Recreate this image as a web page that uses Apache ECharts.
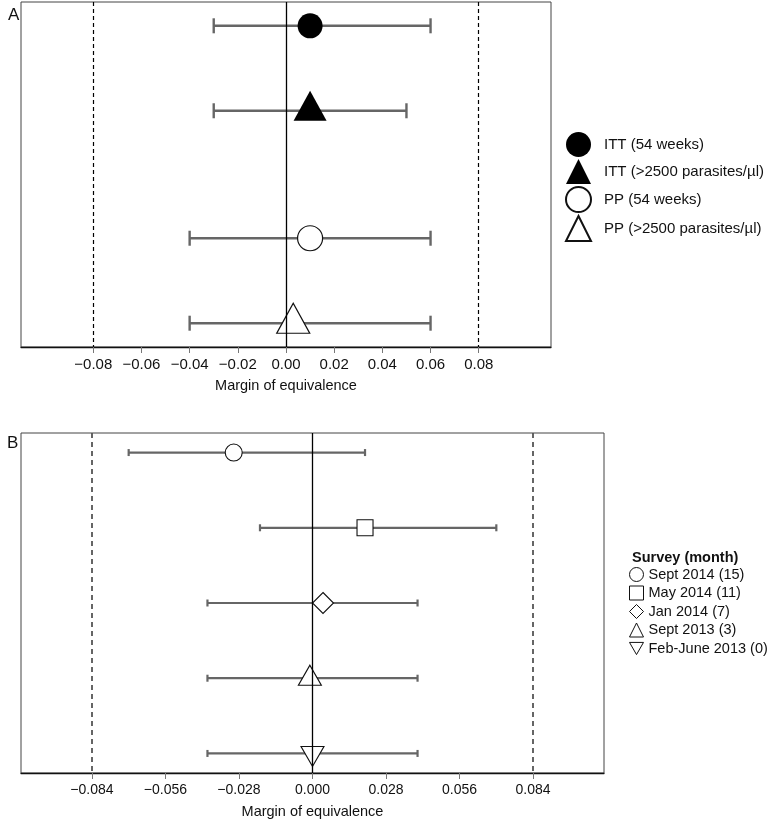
<!DOCTYPE html>
<html>
<head>
<meta charset="utf-8">
<script src="https://cdn.jsdelivr.net/npm/echarts@6/dist/echarts.min.js"></script>
<style>html,body{margin:0;padding:0;background:#fff;}#c{width:770px;height:822px;}</style>
</head>
<body>
<div id="c"></div>
<script>
// ---- Panel A data ----
var labelsA = ['ITT (54 weeks)', 'ITT (>2500 parasites/µl)', 'PP (54 weeks)', 'PP (>2500 parasites/µl)'];
var rowA = [1, 2, 3.5, 4.5];
var pointA = [0.01, 0.01, 0.01, 0.003];
var lowA = [-0.03, -0.03, -0.04, -0.04];
var highA = [0.06, 0.05, 0.06, 0.06];
var ticksA = [-0.08, -0.06, -0.04, -0.02, 0, 0.02, 0.04, 0.06, 0.08];
var marginA = [-0.08, 0.08];

// ---- Panel B data ----
var labelsB = ['Sept 2014 (15)', 'May 2014 (11)', 'Jan 2014 (7)', 'Sept 2013 (3)', 'Feb-June 2013 (0)'];
var rowB = [1, 2, 3, 4, 5];
var pointB = [-0.03, 0.02, 0.004, -0.001, 0];
var lowB = [-0.07, -0.02, -0.04, -0.04, -0.04];
var highB = [0.02, 0.07, 0.04, 0.04, 0.04];
var ticksB = [-0.084, -0.056, -0.028, 0, 0.028, 0.056, 0.084];
var marginB = [-0.084, 0.084];

var FONT = '"Liberation Sans", Arial, Helvetica, sans-serif';

function fmt(d) {
  return function (v) { return v.toFixed(d).replace('-', '\u2212'); };
}

function barRenderer(capHalf, lw) {
  return function (params, api) {
    var y = api.value(2);
    var p1 = api.coord([api.value(0), y]);
    var p2 = api.coord([api.value(1), y]);
    var st = { stroke: '#666', lineWidth: lw };
    return {
      type: 'group',
      children: [
        { type: 'line', shape: { x1: p1[0], y1: p1[1], x2: p2[0], y2: p2[1] }, style: st },
        { type: 'line', shape: { x1: p1[0], y1: p1[1] - capHalf, x2: p1[0], y2: p1[1] + capHalf }, style: st },
        { type: 'line', shape: { x1: p2[0], y1: p2[1] - capHalf, x2: p2[0], y2: p2[1] + capHalf }, style: st }
      ]
    };
  };
}

var DOWN_TRI = 'path://M0,0 L2,0 L1,1.74 Z';

var symA = ['circle', 'triangle', 'circle', 'triangle'];
var fillA = ['#000', '#000', '#fff', '#fff'];
var sizeA = [25, [33, 30], 25, [33, 30]];
var offA = [[0, 0], [0, -5], [0, 0], [0, -5]];

var symB = ['circle', 'rect', 'diamond', 'triangle', DOWN_TRI];
var sizeB = [17, 16, [21, 21], [23, 20], [23, 20]];
var offB = [[0, 0], [0, 0], [0, 0], [0, -3], [0, 3]];

var series = [];

series.push({
  type: 'custom', xAxisIndex: 0, yAxisIndex: 0, z: 2, silent: true,
  renderItem: barRenderer(7.5, 2.4),
  encode: { x: [0, 1], y: 2 },
  data: rowA.map(function (r, i) { return [lowA[i], highA[i], r]; })
});
series.push({
  type: 'custom', xAxisIndex: 1, yAxisIndex: 1, z: 2, silent: true,
  renderItem: barRenderer(3.5, 2.2),
  encode: { x: [0, 1], y: 2 },
  data: rowB.map(function (r, i) { return [lowB[i], highB[i], r]; })
});

labelsA.forEach(function (name, i) {
  series.push({
    name: name, type: 'scatter', xAxisIndex: 0, yAxisIndex: 0, z: 3, silent: true,
    symbol: symA[i], symbolSize: sizeA[i], symbolOffset: offA[i],
    itemStyle: { color: fillA[i], borderColor: '#111', borderWidth: fillA[i] === '#fff' ? 1.2 : 0, opacity: 1 },
    data: [[pointA[i], rowA[i]]]
  });
});
labelsB.forEach(function (name, i) {
  series.push({
    name: name, type: 'scatter', xAxisIndex: 1, yAxisIndex: 1, z: 3, silent: true,
    symbol: symB[i], symbolSize: sizeB[i], symbolOffset: offB[i],
    itemStyle: { color: '#fff', borderColor: '#111', borderWidth: 1.1, opacity: 1 },
    data: [[pointB[i], rowB[i]]]
  });
});

function refLines(margins, dashStyle) {
  return [
    { xAxis: margins[0], lineStyle: dashStyle },
    { xAxis: 0, lineStyle: { type: 'solid', color: '#000', width: 1.3 } },
    { xAxis: margins[1], lineStyle: dashStyle }
  ];
}

series.push({
  type: 'line', xAxisIndex: 0, yAxisIndex: 0, z: 5, data: [], silent: true,
  markLine: {
    silent: true, symbol: ['none', 'none'], label: { show: false }, animation: false, precision: 4,
    emphasis: { disabled: true },
    data: refLines(marginA, { type: [4, 3], color: '#000', width: 1.2 })
  }
});
series.push({
  type: 'line', xAxisIndex: 1, yAxisIndex: 1, z: 5, data: [], silent: true,
  markLine: {
    silent: true, symbol: ['none', 'none'], label: { show: false }, animation: false, precision: 4,
    emphasis: { disabled: true },
    data: refLines(marginB, { type: [5, 4], color: '#555', width: 1.8 })
  }
});

function xAxisCfg(gridIndex, min, max, ticks, dec, fontSize) {
  return {
    type: 'value', gridIndex: gridIndex, min: min, max: max,
    name: 'Margin of equivalence', nameLocation: 'middle', nameGap: 31,
    nameTextStyle: { fontFamily: FONT, fontSize: 14.5, color: '#111' },
    axisLine: { show: true, onZero: false, lineStyle: { color: '#111', width: 1.3 } },
    axisTick: { show: true, length: 6, customValues: ticks, lineStyle: { color: '#777', width: 1 } },
    axisLabel: { customValues: ticks, formatter: fmt(dec), margin: 10, fontFamily: FONT, fontSize: fontSize, color: '#111' },
    splitLine: { show: false }
  };
}

function yAxisCfg(gridIndex, min, max) {
  return {
    type: 'value', gridIndex: gridIndex, min: min, max: max, inverse: true,
    axisLine: { show: false }, axisTick: { show: false }, axisLabel: { show: false }, splitLine: { show: false }
  };
}

var option = {
  animation: false,
  backgroundColor: '#fff',
  title: [
    { text: 'A', left: 3, top: 2, textStyle: { fontFamily: FONT, fontSize: 17, fontWeight: 'normal', color: '#111' } },
    { text: 'B', left: 2, top: 430, textStyle: { fontFamily: FONT, fontSize: 17, fontWeight: 'normal', color: '#111' } },
    { text: 'Survey (month)', left: 627, top: 545, textStyle: { fontFamily: FONT, fontSize: 14.5, fontWeight: 'bold', color: '#111' } }
  ],
  grid: [
    { left: 21, width: 530, top: 2, height: 345, show: true, borderColor: '#444', borderWidth: 1, backgroundColor: 'transparent' },
    { left: 21, width: 583, top: 433, height: 340, show: true, borderColor: '#444', borderWidth: 1, backgroundColor: 'transparent' }
  ],
  xAxis: [
    xAxisCfg(0, -0.11, 0.11, ticksA, 2, 15),
    xAxisCfg(1, -0.111, 0.111, ticksB, 3, 14)
  ],
  yAxis: [
    yAxisCfg(0, 0.72, 4.78),
    yAxisCfg(1, 0.74, 5.26)
  ],
  legend: [
    {
      data: labelsA, orient: 'vertical', left: 565, top: 132, padding: 0,
      itemWidth: 25, itemHeight: 25, itemGap: 2, selectedMode: false,
      textStyle: { fontFamily: FONT, fontSize: 15, color: '#111', padding: [0, 0, 0, 8] }
    },
    {
      data: labelsB, orient: 'vertical', left: 629, top: 567, padding: 0,
      itemWidth: 14, itemHeight: 14, itemGap: 3.5, selectedMode: false,
      itemStyle: { borderWidth: 1 },
      textStyle: { fontFamily: FONT, fontSize: 14.5, color: '#111' }
    }
  ],
  series: series
};

var chart = echarts.init(document.getElementById('c'), null, { renderer: 'canvas' });
chart.setOption(option);
</script>
</body>
</html>
